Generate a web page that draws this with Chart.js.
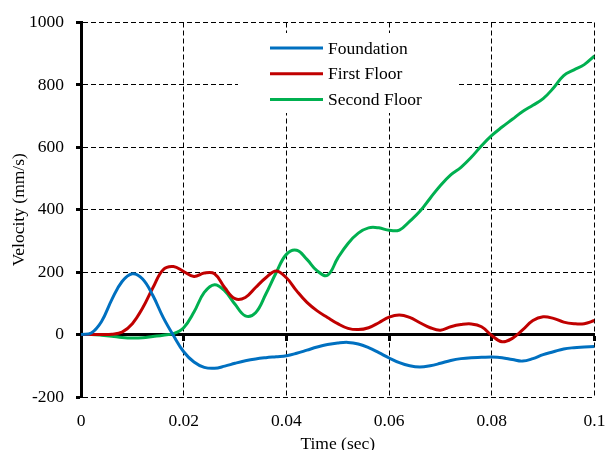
<!DOCTYPE html>
<html>
<head>
<meta charset="utf-8">
<script src="https://cdn.jsdelivr.net/npm/chart.js@4/dist/chart.umd.min.js"></script>
<style>
  html, body { margin: 0; padding: 0; background: #fff; }
  #wrap { width: 605px; height: 450px; }
</style>
</head>
<body>
<div id="wrap"><canvas id="velChart" width="605" height="450"></canvas></div>
<script>
// time axis (sec)
const timeSec = [
  0.000, 0.002, 0.004, 0.006, 0.008, 0.010, 0.012, 0.014, 0.016, 0.018,
  0.020, 0.022, 0.024, 0.026, 0.028, 0.030, 0.032, 0.034, 0.036, 0.038,
  0.040, 0.042, 0.044, 0.046, 0.048, 0.050, 0.052, 0.054, 0.056, 0.058,
  0.060, 0.062, 0.064, 0.066, 0.068, 0.070, 0.072, 0.074, 0.076, 0.078,
  0.080, 0.082, 0.084, 0.086, 0.088, 0.090, 0.092, 0.094, 0.096, 0.098,
  0.100
];

// velocities (mm/s)
const foundation = [
  0, 5, 42, 112, 170, 195, 178, 125, 55, -3,
  -55, -88, -105, -108, -101, -92, -84, -78, -74, -71,
  -68, -60, -50, -40, -32, -27, -25, -30, -42, -58,
  -75, -90, -100, -104, -100, -92, -83, -77, -74, -73,
  -72, -74, -80, -85, -77, -64, -55, -46, -42, -40,
  -38
];
const firstFloor = [
  0, 0, 0, 1, 8, 35, 85, 150, 208, 218,
  202, 186, 197, 195, 150, 115, 119, 151, 182, 204,
  182, 140, 103, 76, 55, 35, 20, 16, 22, 38,
  56, 63, 55, 38, 22, 14, 25, 32, 34, 25,
  -3, -23, -12, 15, 45, 57, 52, 40, 35, 35,
  45
];
const secondFloor = [
  0, 0, -2, -5, -9, -11, -10, -6, -2, 3,
  22, 72, 135, 160, 140, 97, 60, 70, 130, 198,
  257, 270, 241, 204, 190, 245, 292, 325, 342, 342,
  334, 335, 363, 395, 437, 478, 512, 536, 568, 605,
  638, 665, 690, 715, 735, 756, 790, 830, 848, 865,
  893
];

const seriesNames = ['Foundation', 'First Floor', 'Second Floor'];
const seriesColors = ['#0070C0', '#C00000', '#00B050'];
const seriesData = [foundation, firstFloor, secondFloor];

const FONT = '"Liberation Serif", "Times New Roman", serif';

function toPoints(vals) {
  return vals.map((v, i) => ({ x: timeSec[i], y: v }));
}

// legend box drawn inside the plot, over the grid
const boxLegend = {
  id: 'boxLegend',
  beforeDatasetsDraw(chart) {
    const ctx = chart.ctx;
    ctx.save();
    ctx.fillStyle = '#fff';
    ctx.fillRect(238, 33, 219, 80);
    ctx.font = '17.5px ' + FONT;
    ctx.textBaseline = 'middle';
    ctx.fillStyle = '#000';
    seriesNames.forEach((name, i) => {
      const y = 48 + i * 25.7;
      ctx.strokeStyle = seriesColors[i];
      ctx.lineWidth = 3;
      ctx.beginPath();
      ctx.moveTo(270, y);
      ctx.lineTo(323, y);
      ctx.stroke();
      ctx.fillText(name, 328, y + 1);
    });
    ctx.restore();
  }
};

new Chart(document.getElementById('velChart').getContext('2d'), {
  type: 'line',
  data: {
    datasets: seriesNames.map((name, i) => ({
      label: name,
      data: toPoints(seriesData[i]),
      borderColor: seriesColors[i],
      backgroundColor: seriesColors[i],
      borderWidth: 3,
      pointRadius: 0,
      tension: 0.4,
      fill: false
    }))
  },
  options: {
    responsive: false,
    animation: false,
    layout: { padding: { top: 20, right: 0, bottom: 0, left: 0 } },
    plugins: {
      legend: { display: false },
      tooltip: { enabled: false }
    },
    scales: {
      x: {
        type: 'linear',
        position: 'bottom',
        min: 0,
        max: 0.1,
        afterFit: s => { s.height = 53; s.paddingRight = 10.5; },
        ticks: {
          stepSize: 0.02,
          color: '#000',
          padding: 14,
          maxRotation: 0,
          font: { family: FONT, size: 17.5 },
          callback: v => String(+v.toFixed(2))
        },
        grid: { color: '#000', lineWidth: 1, drawTicks: false },
        border: { display: false, dash: [5, 3] },
        title: {
          display: true,
          text: 'Time (sec)',
          color: '#000',
          font: { family: FONT, size: 17.5, lineHeight: 0.65 },
          padding: 0
        }
      },
      x0: {
        type: 'linear',
        axis: 'x',
        position: { y: 0 },
        min: 0,
        max: 0.1,
        ticks: { stepSize: 0.02, display: false },
        grid: { drawOnChartArea: false, drawTicks: true, tickLength: 5, tickWidth: 3, tickColor: '#000' },
        border: { display: true, color: '#000', width: 3 }
      },
      y: {
        min: -200,
        max: 1000,
        afterFit: s => { s.width = 81; },
        ticks: {
          stepSize: 200,
          color: '#000',
          padding: 12,
          font: { family: FONT, size: 17.5 },
          callback: v => String(v)
        },
        grid: { color: '#000', lineWidth: 1, tickLength: 5, tickWidth: 3, tickColor: '#000' },
        border: { display: true, color: '#000', width: 3, dash: [5, 3] },
        title: {
          display: true,
          text: 'Velocity (mm/s)',
          color: '#000',
          font: { family: FONT, size: 17.5 },
          padding: { top: 9, bottom: 0 }
        }
      }
    }
  },
  plugins: [boxLegend]
});
</script>
</body>
</html>
